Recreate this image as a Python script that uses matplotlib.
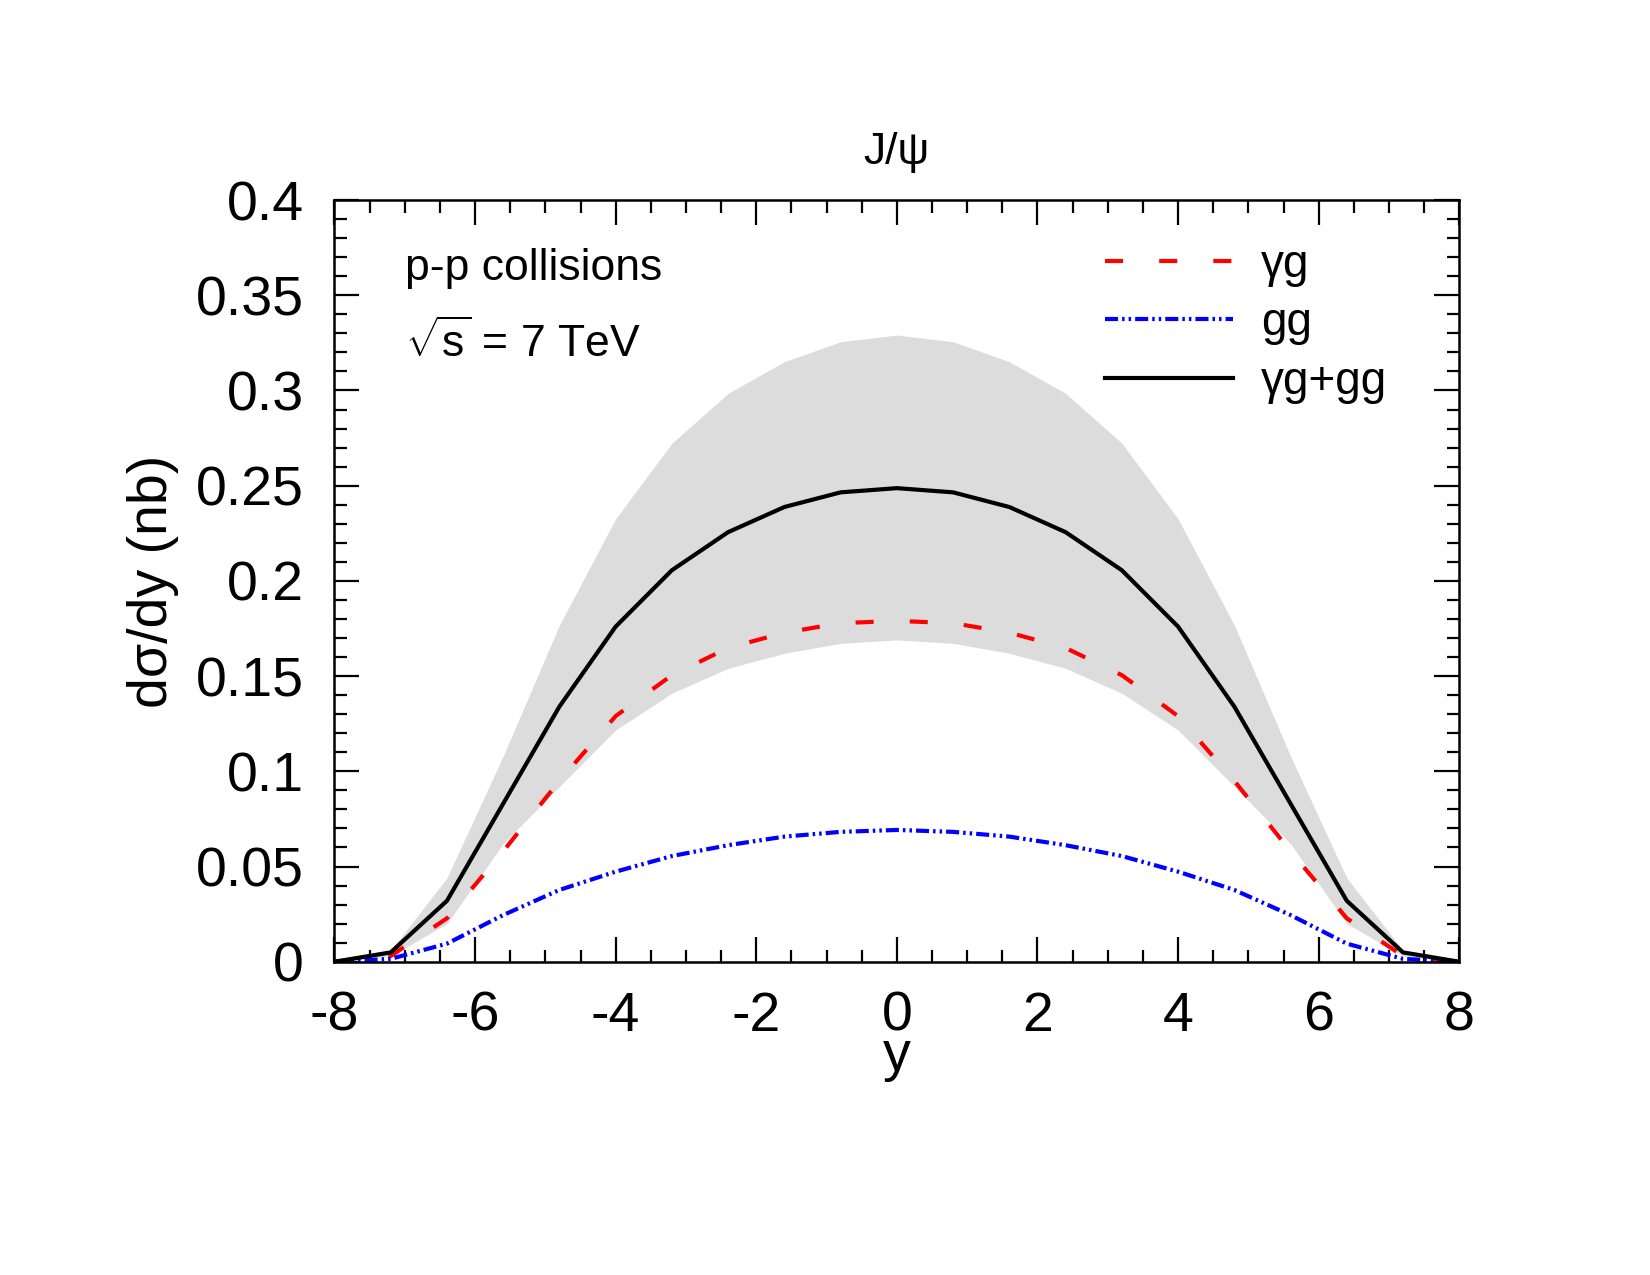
import matplotlib
matplotlib.use("Agg")
import matplotlib.pyplot as plt
from matplotlib.ticker import MultipleLocator, FuncFormatter

plt.rcParams['font.family'] = ['Liberation Sans', 'DejaVu Sans']
plt.rcParams['mathtext.fontset'] = 'custom'
plt.rcParams['mathtext.rm'] = 'Liberation Sans'
plt.rcParams['mathtext.it'] = 'Liberation Sans:italic'
plt.rcParams['axes.unicode_minus'] = False
plt.rcParams['lines.scale_dashes'] = False

# ---- data ----
rapidity = [-8.0, -7.2, -6.4, -5.6, -4.8, -4.0, -3.2, -2.4, -1.6, -0.8, 0.0,
            0.8, 1.6, 2.4, 3.2, 4.0, 4.8, 5.6, 6.4, 7.2, 8.0]
gamma_g = [0.0, 0.003, 0.0228, 0.058, 0.095, 0.129, 0.1505, 0.1648, 0.1728, 0.1778, 0.179,
           0.1778, 0.1728, 0.1648, 0.1505, 0.129, 0.095, 0.058, 0.0228, 0.003, 0.0]
g_g = [0.0, 0.0015, 0.0095, 0.0245, 0.0377, 0.0473, 0.0555, 0.0612, 0.0657, 0.0682, 0.0692,
       0.0682, 0.0657, 0.0612, 0.0555, 0.0473, 0.0377, 0.0245, 0.0095, 0.0015, 0.0]
total = [0.0, 0.0049, 0.032, 0.083, 0.134, 0.176, 0.2056, 0.2256, 0.2388, 0.2465, 0.2487,
         0.2465, 0.2388, 0.2256, 0.2056, 0.176, 0.134, 0.083, 0.032, 0.0049, 0.0]
band_upper = [0.0, 0.006, 0.044, 0.108, 0.1768, 0.2326, 0.2723, 0.2985, 0.3151, 0.3256, 0.3291,
              0.3256, 0.3151, 0.2985, 0.2723, 0.2326, 0.1768, 0.108, 0.044, 0.006, 0.0]
band_lower = [0.0, 0.003, 0.020, 0.062, 0.092, 0.1217, 0.141, 0.1541, 0.162, 0.1672, 0.169,
              0.1672, 0.162, 0.1541, 0.141, 0.1217, 0.092, 0.062, 0.020, 0.003, 0.0]
labels = ['γg', 'gg', 'γg+gg']

fig = plt.figure(figsize=(16.5, 12.75), dpi=100)
ax = fig.add_axes([0.2027, 0.2457, 0.6817, 0.5974])

ax.fill_between(rapidity, band_lower, band_upper, color='#dcdcdc', linewidth=0, zorder=1)
ax.plot(rapidity, gamma_g, color='#ff0000', lw=3.0, dashes=(13, 26), label=labels[0], zorder=3)
ax.plot(rapidity, g_g, color='#0000ff', lw=3.0,
        dashes=(9.4, 2.9, 1.8, 2.9, 1.8, 2.9), label=labels[1], zorder=3)
ax.plot(rapidity, total, color='black', lw=3.0, label=labels[2], zorder=4)

ax.set_xlim(-8, 8)
ax.set_ylim(0, 0.4)
ax.xaxis.set_major_locator(MultipleLocator(2))
ax.xaxis.set_minor_locator(MultipleLocator(0.5))
ax.yaxis.set_major_locator(MultipleLocator(0.05))
ax.yaxis.set_minor_locator(MultipleLocator(0.01))
ax.yaxis.set_major_formatter(FuncFormatter(lambda v, p: '%g' % round(v, 3)))
ax.xaxis.set_major_formatter(FuncFormatter(lambda v, p: '%d' % round(v)))

ax.tick_params(which='both', direction='in', top=True, right=True, width=1.6)
ax.tick_params(which='major', length=18)
ax.tick_params(which='minor', length=9)
ax.tick_params(axis='x', which='major', labelsize=40, pad=21)
ax.tick_params(axis='y', which='major', labelsize=40, pad=22)
for s in ax.spines.values():
    s.set_linewidth(1.8)
    s.set_zorder(5)

ax.set_ylabel('dσ/dy (nb)', fontsize=40, labelpad=12)
ax.set_xlabel('y', fontsize=40)
ax.xaxis.set_label_coords(0.5, -0.09)
ax.set_title('J/ψ', fontsize=32, pad=26)

ax.text(0.0627, 0.895, 'p-p collisions', transform=ax.transAxes, fontsize=32,
        ha='left', va='baseline')
ax.text(0.0627, 0.794, r'$\sqrt{\mathrm{s}}$ = 7 TeV', transform=ax.transAxes, fontsize=32,
        ha='left', va='baseline')

leg = ax.legend(loc='upper left', bbox_to_anchor=(0.685, 0.944), frameon=False,
                fontsize=33, handlelength=2.79, handletextpad=0.61, labelspacing=0.32,
                borderpad=0, borderaxespad=0)

fig.savefig('out.png', dpi=100)
